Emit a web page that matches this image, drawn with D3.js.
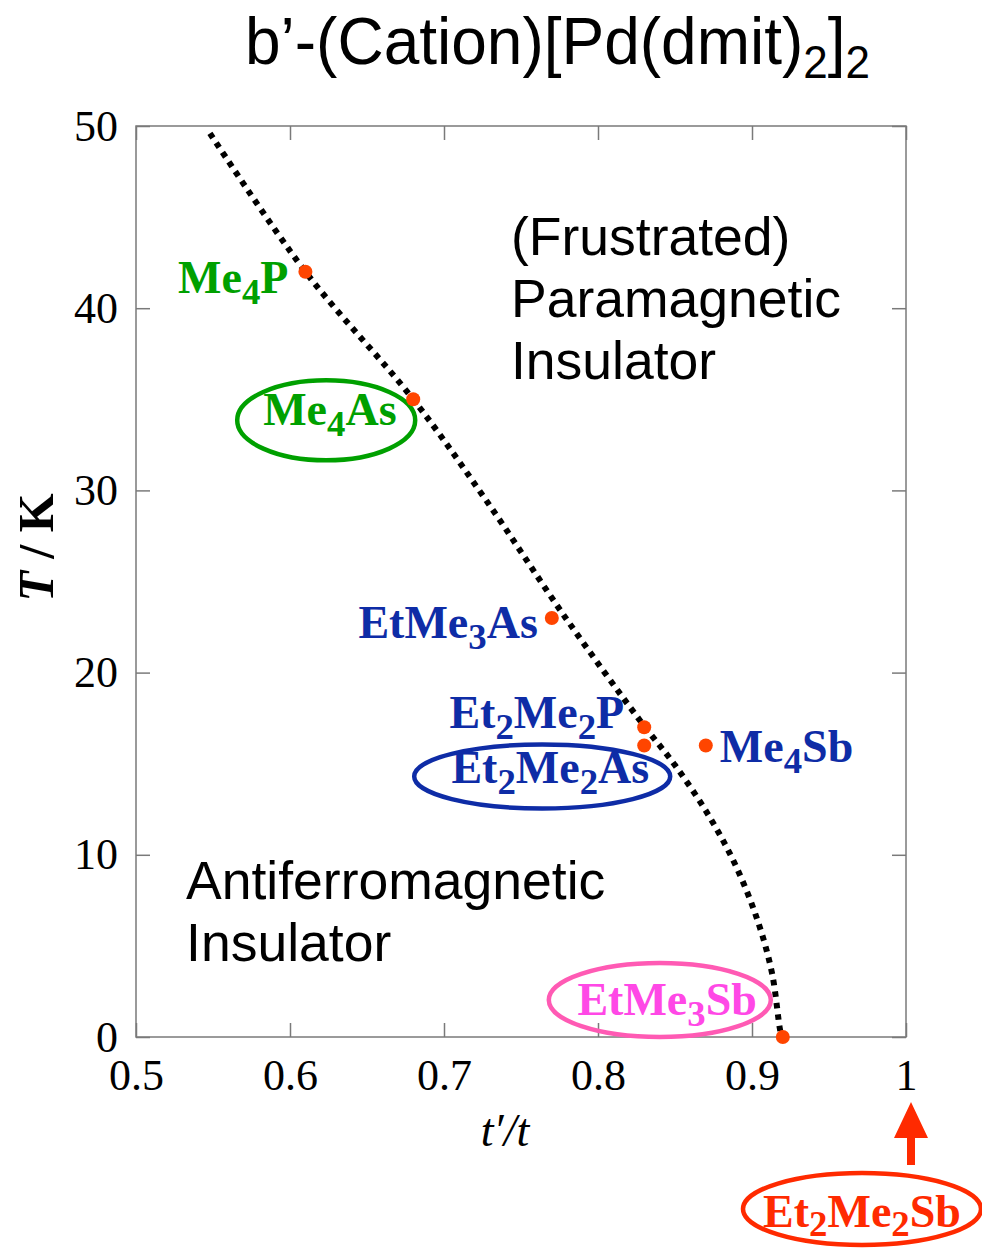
<!DOCTYPE html>
<html>
<head>
<meta charset="utf-8">
<script src="https://cdn.jsdelivr.net/npm/d3@7"></script>
<style>
  body { margin: 0; background: #fff; }
  svg { display: block; }
</style>
</head>
<body>
<div id="chart"></div>
<script>
// ---- data ----
var compounds = ["Me4P", "Me4As", "EtMe3As", "Et2Me2P", "Et2Me2As", "Me4Sb", "EtMe3Sb"];
var ratio = [0.61, 0.68, 0.77, 0.83, 0.83, 0.87, 0.92];      // t'/t
var tNeel = [42, 35, 23, 17, 16, 16, 0];                      // T / K

// dotted phase boundary
var boundaryRatio = [0.548, 0.610, 0.680, 0.727, 0.779, 0.827, 0.851, 0.873, 0.890, 0.904, 0.913, 0.918, 0.920];
var boundaryT     = [49.6, 42.0, 35.0, 29.5, 23.0, 17.4, 14.8, 12.0, 9.3, 6.3, 3.5, 0.5, -0.4];

var xTicks = [0.5, 0.6, 0.7, 0.8, 0.9, 1];
var yTicks = [0, 10, 20, 30, 40, 50];
var xTickLabels = ["0.5", "0.6", "0.7", "0.8", "0.9", "1"];

var width = 982,
    height = 1248,
    margin = {left: 136, top: 126, right: 76, bottom: 211},
    serif = "'Liberation Serif', 'Times New Roman', serif",
    sans = "'Liberation Sans', Arial, sans-serif";

var green = "#00a000", blue = "#0e2ca6", pinkText = "#ff48e6", pinkRing = "#ff5ab4",
    red = "#ff2a00", dotColor = "#ff4500";

// label layout: offsets (px) from each compound's point
var labelStyle = {
    "Me4P":     {color: green, anchor: "end",   dx: -17,  dy: 21},
    "Me4As":    {color: green, anchor: "start", dx: -150, dy: 26, ring: {dx: -87, dy: 21, rx: 89, ry: 40}},
    "EtMe3As":  {color: blue,  anchor: "end",   dx: -14,  dy: 20},
    "Et2Me2P":  {color: blue,  anchor: "end",   dx: -20,  dy: 1},
    "Et2Me2As": {color: blue,  anchor: "end",   dx: 5,    dy: 38, ring: {dx: -102, dy: 31, rx: 128, ry: 32}},
    "Me4Sb":    {color: blue,  anchor: "start", dx: 14,   dy: 17},
    "EtMe3Sb":  {color: pinkText, anchor: "end", dx: -26, dy: -22, ring: {dx: -123, dy: -37, rx: 111, ry: 37, color: pinkRing}}
};

var svg = d3.select("#chart")
            .append("svg")
            .attr("width", width)
            .attr("height", height);

var xScale = d3.scaleLinear()
                .domain([0.5, 1])
                .range([margin.left, width - margin.right]);

var yScale = d3.scaleLinear()
                .domain([0, 50])
                .range([height - margin.bottom, margin.top]);

var x0 = xScale(0.5), x1 = xScale(1), y0 = yScale(0), y1 = yScale(50);

// ---- axes (ticks point inward on all four sides) ----
var axisColor = "#7a7a7a";

var styleAxis = function(g){
    g.select(".domain").remove();
    g.selectAll(".tick line").attr("stroke", axisColor).attr("stroke-width", 1.5);
    g.selectAll(".tick text").attr("fill", "#000").attr("font-family", serif).attr("font-size", 44);
};

svg.append("g")
    .attr("transform", "translate(0," + y0 + ")")
    .call(d3.axisBottom(xScale).tickValues(xTicks).tickSize(-14).tickPadding(22)
            .tickFormat(function(d, i){ return xTickLabels[i]; }))
    .call(styleAxis);

svg.append("g")
    .attr("transform", "translate(0," + y1 + ")")
    .call(d3.axisTop(xScale).tickValues(xTicks).tickSize(-14).tickFormat(""))
    .call(styleAxis);

svg.append("g")
    .attr("transform", "translate(" + x0 + ",0)")
    .call(d3.axisLeft(yScale).tickValues(yTicks).tickSize(-14).tickPadding(18))
    .call(styleAxis);

svg.append("g")
    .attr("transform", "translate(" + x1 + ",0)")
    .call(d3.axisRight(yScale).tickValues(yTicks).tickSize(-14).tickFormat(""))
    .call(styleAxis);

// frame
svg.append("rect")
    .attr("x", x0).attr("y", y1)
    .attr("width", x1 - x0).attr("height", y0 - y1)
    .attr("fill", "none")
    .attr("stroke", axisColor)
    .attr("stroke-width", 1.5);

// ---- dotted boundary ----
var boundary = boundaryRatio.map(function(r, i){ return {r: r, t: boundaryT[i]}; });

var line = d3.line()
                .x(function(d){ return xScale(d.r); })
                .y(function(d){ return yScale(d.t); })
                .curve(d3.curveCatmullRom.alpha(0.5));

svg.append("path")
    .datum(boundary)
    .attr("d", line)
    .attr("fill", "none")
    .attr("stroke", "#000")
    .attr("stroke-width", 6)
    .attr("stroke-dasharray", "5.5 6");

// ---- compound points + labels ----
var points = compounds.map(function(c, i){ return {name: c, r: ratio[i], t: tNeel[i]}; });

// chemical formula: digits become subscripts
var formula = function(text, name, size, drop){
    var parts = name.match(/[A-Za-z]+|\d+/g),
        down = 0;
    drop = drop || 11;
    parts.forEach(function(p){
        var sub = /\d/.test(p),
            shift = sub ? drop : 0;
        text.append("tspan")
            .attr("dy", shift - down)
            .attr("font-size", sub ? size * 0.8 : size)
            .text(p);
        down = shift;
    });
};

points.forEach(function(p){
    var s = labelStyle[p.name],
        px = xScale(p.r),
        py = yScale(p.t);

    if (s.ring){
        svg.append("ellipse")
            .attr("cx", px + s.ring.dx).attr("cy", py + s.ring.dy)
            .attr("rx", s.ring.rx).attr("ry", s.ring.ry)
            .attr("fill", "none")
            .attr("stroke", s.ring.color || s.color)
            .attr("stroke-width", 4.5);
    }

    var t = svg.append("text")
        .attr("x", px + s.dx).attr("y", py + s.dy)
        .attr("text-anchor", s.anchor)
        .attr("font-family", serif)
        .attr("font-weight", "bold")
        .attr("fill", s.color);
    formula(t, p.name, 46);
});

svg.selectAll("circle.pt")
    .data(points)
    .enter()
    .append("circle")
        .attr("class", "pt")
        .attr("cx", function(d){ return xScale(d.r); })
        .attr("cy", function(d){ return yScale(d.t); })
        .attr("r", 7)
        .attr("fill", dotColor);

// ---- Et2Me2Sb (t'/t ~ 1) below the axis with arrow ----
var ax = x1 + 5;
svg.append("path")
    .attr("d", "M" + ax + "," + (y0 + 65) +
               "L" + (ax + 17) + "," + (y0 + 101) +
               "L" + (ax + 4) + "," + (y0 + 101) +
               "L" + (ax + 4) + "," + (y0 + 128) +
               "L" + (ax - 4) + "," + (y0 + 128) +
               "L" + (ax - 4) + "," + (y0 + 101) +
               "L" + (ax - 17) + "," + (y0 + 101) + "Z")
    .attr("fill", red);

svg.append("ellipse")
    .attr("cx", ax - 49).attr("cy", y0 + 172)
    .attr("rx", 119).attr("ry", 36)
    .attr("fill", "none")
    .attr("stroke", red)
    .attr("stroke-width", 4.5);

var sb = svg.append("text")
    .attr("x", ax - 49).attr("y", y0 + 190)
    .attr("text-anchor", "middle")
    .attr("font-family", serif)
    .attr("font-weight", "bold")
    .attr("fill", red);
formula(sb, "Et2Me2Sb", 46, 9);

// ---- phase region names ----
var region = function(lines, x, y){
    var t = svg.append("text")
        .attr("font-family", sans)
        .attr("font-size", 53.5)
        .attr("fill", "#000");
    lines.forEach(function(l, i){
        t.append("tspan").attr("x", x).attr("y", y + i * 62).text(l);
    });
};
region(["(Frustrated)", "Paramagnetic", "Insulator"], xScale(0.7435), yScale(42.9));
region(["Antiferromagnetic", "Insulator"], xScale(0.5325), yScale(7.6));

// ---- axis titles ----
svg.append("text")
    .attr("x", (x0 + x1) / 2 - 16).attr("y", y0 + 109)
    .attr("text-anchor", "middle")
    .attr("font-family", serif)
    .attr("font-style", "italic")
    .attr("font-size", 46)
    .text("t\u2032/t");

var yl = svg.append("text")
    .attr("transform", "translate(53," + ((y0 + y1) / 2 - 34) + ") rotate(-90)")
    .attr("text-anchor", "middle")
    .attr("font-family", serif)
    .attr("font-weight", "bold")
    .attr("font-size", 50);
yl.append("tspan").attr("font-style", "italic").text("T");
yl.append("tspan").text(" / K");

// ---- title ----
var title = svg.append("text")
    .attr("transform", "translate(245,64) scale(1,1.05)")
    .attr("font-family", sans)
    .attr("font-size", 64)
    .attr("fill", "#000");
title.append("tspan").text("b\u2019-(Cation)[Pd(dmit)");
title.append("tspan").attr("font-size", 44).attr("dy", 13).text("2");
title.append("tspan").attr("dy", -13).text("]");
title.append("tspan").attr("font-size", 44).attr("dy", 13).text("2");
</script>
</body>
</html>
